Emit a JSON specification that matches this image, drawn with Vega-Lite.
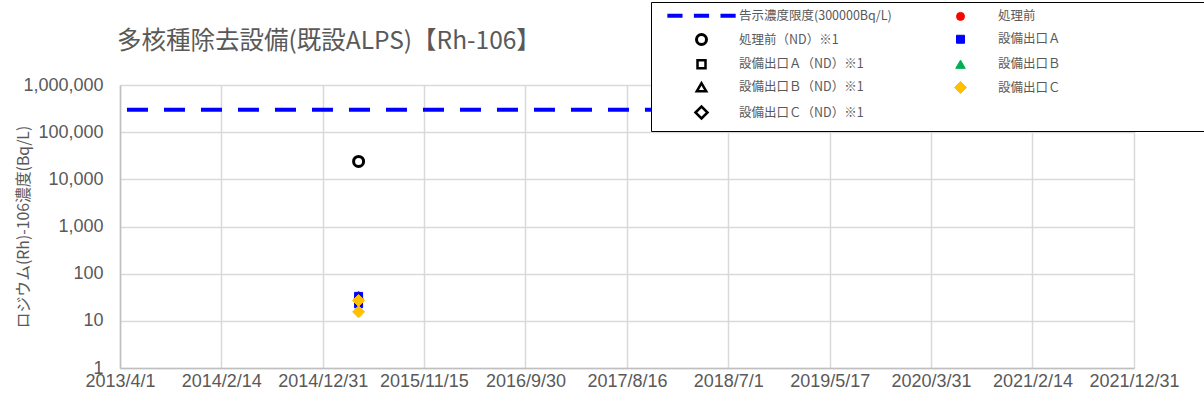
{
  "$schema": "https://vega.github.io/schema/vega-lite/v6.json",
  "width": 1014,
  "height": 283,
  "autosize": {"type": "none"},
  "padding": {"left": 120, "top": 85, "right": 70, "bottom": 35},
  "background": "white",
  "config": {
    "view": {"stroke": null},
    "font": "Noto Sans CJK JP"
  },
  "title": {
    "text": "多核種除去設備(既設ALPS)【Rh-106】",
    "anchor": "start",
    "frame": "group",
    "baseline": "alphabetic",
    "offset": -72,
    "dx": -3,
    "fontSize": 24.5,
    "fontWeight": "normal",
    "font": "Noto Sans CJK JP",
    "color": "#595959"
  },
  "data": {
    "values": [
      {"series": "告示濃度限度(300000Bq/L)", "date": "2013-04-23", "value": 300000},
      {"series": "告示濃度限度(300000Bq/L)", "date": "2021-12-31", "value": 300000},
      {"series": "処理前（ND）※1", "date": "2015-04-23", "value": 24000},
      {"series": "設備出口Ｂ", "date": "2015-04-23", "value": 35},
      {"series": "設備出口Ａ", "date": "2015-04-23", "value": 33},
      {"series": "設備出口Ａ", "date": "2015-04-23", "value": 23},
      {"series": "設備出口Ｃ", "date": "2015-04-23", "value": 27},
      {"series": "設備出口Ｃ", "date": "2015-04-23", "value": 15.5}
    ]
  },
  "encoding": {
    "x": {
      "field": "date",
      "type": "temporal",
      "scale": {"type": "utc", "domain": [{"year": 2013, "month": 4, "date": 1, "utc": true}, {"year": 2021, "month": 12, "date": 31, "utc": true}]},
      "axis": {
        "title": null,
        "values": [
          {"year": 2013, "month": 4, "date": 1, "utc": true},
          {"year": 2014, "month": 2, "date": 14, "utc": true},
          {"year": 2014, "month": 12, "date": 31, "utc": true},
          {"year": 2015, "month": 11, "date": 15, "utc": true},
          {"year": 2016, "month": 9, "date": 30, "utc": true},
          {"year": 2017, "month": 8, "date": 16, "utc": true},
          {"year": 2018, "month": 7, "date": 1, "utc": true},
          {"year": 2019, "month": 5, "date": 17, "utc": true},
          {"year": 2020, "month": 3, "date": 31, "utc": true},
          {"year": 2021, "month": 2, "date": 14, "utc": true},
          {"year": 2021, "month": 12, "date": 31, "utc": true}
        ],
        "format": "%Y/%-m/%-d",
        "labelFont": "Liberation Sans",
        "labelFontSize": 18,
        "labelColor": "#595959",
        "labelPadding": 4,
        "labelOverlap": false,
        "labelFlush": false,
        "ticks": false,
        "grid": true,
        "gridColor": "#d9d9d9",
        "gridWidth": 1.5,
        "domainColor": "#bfbfbf",
        "domainWidth": 1.5
      }
    },
    "y": {
      "field": "value",
      "type": "quantitative",
      "scale": {"type": "log", "domain": [1, 1000000], "nice": false},
      "axis": {
        "title": "ロジウム(Rh)-106濃度(Bq/L)",
        "titleFont": "Noto Sans CJK JP",
        "titleFontSize": 15.8,
        "titleFontWeight": "normal",
        "titleColor": "#595959",
        "titleX": -89,
        "titleY": 141.5,
        "titleAngle": -90,
        "titleBaseline": "bottom",
        "titleAnchor": "middle",
        "values": [1, 10, 100, 1000, 10000, 100000, 1000000],
        "format": ",.0f",
        "labelFont": "Liberation Sans",
        "labelFontSize": 18,
        "labelColor": "#595959",
        "labelPadding": 17,
        "ticks": false,
        "grid": true,
        "gridColor": "#d9d9d9",
        "gridWidth": 1.5,
        "domainColor": "#bfbfbf",
        "domainWidth": 1.5
      }
    }
  },
  "layer": [
    {
      "transform": [{"filter": "datum.series === '告示濃度限度(300000Bq/L)'"}],
      "mark": {"type": "line", "strokeWidth": 4, "strokeDash": [21, 16]},
      "encoding": {
        "stroke": {"field": "series", "type": "nominal"}
      }
    },
    {
      "transform": [{"filter": "datum.series !== '告示濃度限度(300000Bq/L)'"}],
      "mark": {"type": "point", "opacity": 1, "fillOpacity": 1, "strokeOpacity": 1},
      "encoding": {
        "stroke": {"field": "series", "type": "nominal",
          "scale": {"domain": ["告示濃度限度(300000Bq/L)", "処理前", "処理前（ND）※1", "設備出口Ａ", "設備出口Ａ（ND）※1", "設備出口Ｂ", "設備出口Ｂ（ND）※1", "設備出口Ｃ", "設備出口Ｃ（ND）※1"],
                    "range": ["#0000FF", "#FF0000", "#000000", "#0000FF", "#000000", "#00B050", "#000000", "#FFC000", "#000000"]},
          "legend": {
            "title": " ",
            "titleOrient": "right",
            "titlePadding": 176,
            "titleFontSize": 12,
            "orient": "none",
            "legendX": 531,
            "legendY": -83,
            "columns": 2,
            "direction": "horizontal",
            "padding": 7,
            "strokeColor": "#000000",
            "fillColor": "#FFFFFF",
            "symbolSize": 64,
            "symbolOffset": 36,
            "labelOffset": 30,
            "columnPadding": 25,
            "rowPadding": 4,
            "labelFont": "Noto Sans CJK JP",
            "labelFontSize": 12.5,
            "labelColor": "#595959",
            "labelLimit": 300,
            "encode": {
              "legend": {"update": {"strokeWidth": {"value": 2}}},
              "symbols": {"update": {
                "strokeWidth": {"signal": "datum.value === '告示濃度限度(300000Bq/L)' ? 4 : (indexof(datum.value, '（ND）') >= 0 ? 2.5 : 1)"}
              }}
            }
          }},
        "fill": {"field": "series", "type": "nominal",
          "scale": {"domain": ["告示濃度限度(300000Bq/L)", "処理前", "処理前（ND）※1", "設備出口Ａ", "設備出口Ａ（ND）※1", "設備出口Ｂ", "設備出口Ｂ（ND）※1", "設備出口Ｃ", "設備出口Ｃ（ND）※1"],
                    "range": ["transparent", "#FF0000", "#FFFFFF", "#0000FF", "#FFFFFF", "#00B050", "#FFFFFF", "#FFC000", "#FFFFFF"]}},
        "shape": {"field": "series", "type": "nominal",
          "scale": {"domain": ["告示濃度限度(300000Bq/L)", "処理前", "処理前（ND）※1", "設備出口Ａ", "設備出口Ａ（ND）※1", "設備出口Ｂ", "設備出口Ｂ（ND）※1", "設備出口Ｃ", "設備出口Ｃ（ND）※1"],
                    "range": ["M-21.6,0H-12M-4.8,0H4.8M12,0H21.6", "circle", "circle", "square", "square", "triangle-up", "triangle-up", "diamond", "diamond"]}},
        "size": {"field": "series", "type": "nominal", "legend": null,
          "scale": {"type": "ordinal", "domain": ["告示濃度限度(300000Bq/L)", "処理前", "処理前（ND）※1", "設備出口Ａ", "設備出口Ａ（ND）※1", "設備出口Ｂ", "設備出口Ｂ（ND）※1", "設備出口Ｃ", "設備出口Ｃ（ND）※1"],
                    "range": [10, 64, 100, 64, 64, 90, 90, 144, 144]}},
        "strokeWidth": {"field": "series", "type": "nominal", "legend": null,
          "scale": {"type": "ordinal", "domain": ["告示濃度限度(300000Bq/L)", "処理前", "処理前（ND）※1", "設備出口Ａ", "設備出口Ａ（ND）※1", "設備出口Ｂ", "設備出口Ｂ（ND）※1", "設備出口Ｃ", "設備出口Ｃ（ND）※1"],
                    "range": [4, 1, 3, 1, 2.5, 1, 2.5, 1, 2.5]}}
      }
    }
  ],
  "resolve": {"scale": {"stroke": "shared"}}
}
